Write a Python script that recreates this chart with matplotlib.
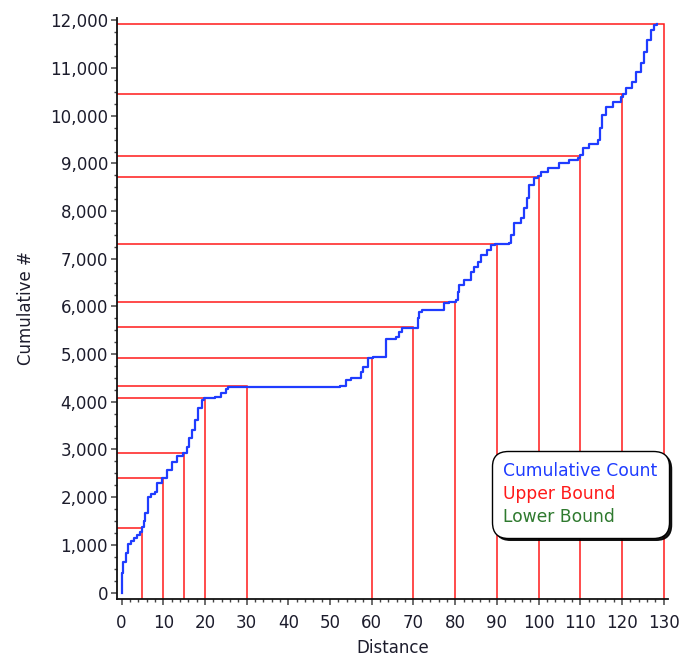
import matplotlib
matplotlib.use("Agg")
import matplotlib.pyplot as plt
from matplotlib.ticker import FuncFormatter, MultipleLocator

# cumulative count (step curve)
cum_x = [0.0, 0.0, 0.4, 1.0, 1.6, 2.2, 3.0, 3.8, 4.4, 5.0, 5.3, 5.7, 6.3, 7.0,
         8.0, 8.4, 9.6, 10.8, 12.0, 13.2, 14.8, 15.6, 16.2, 16.8, 17.6, 18.4,
         19.3, 19.8, 22.3, 23.9, 25.0, 25.5, 52.3, 53.9, 55.1, 57.5, 58.0,
         59.1, 60.3, 63.5, 65.9, 66.5, 67.3, 71.0, 71.4, 72.0, 77.2, 78.6,
         80.2, 80.6, 81.0, 82.2, 83.8, 84.6, 85.4, 86.2, 87.6, 88.6, 89.5,
         93.0, 93.3, 94.2, 95.8, 96.6, 97.1, 97.8, 99.0, 99.8, 100.6, 102.2,
         105.0, 107.4, 109.4, 110.0, 110.6, 112.2, 114.2, 114.7, 115.2, 116.2,
         117.8, 119.8, 120.2, 121.0, 122.5, 123.3, 124.6, 125.3, 126.1, 126.9,
         127.7, 128.5]
cum_y = [0, 415, 646, 822, 1017, 1080, 1150, 1210, 1275, 1370, 1500, 1660,
         2010, 2070, 2115, 2290, 2400, 2570, 2745, 2863, 2935, 3060, 3240,
         3410, 3620, 3864, 4040, 4085, 4110, 4178, 4260, 4320, 4330, 4458,
         4506, 4632, 4737, 4913, 4934, 5311, 5366, 5471, 5555, 5750, 5891,
         5926, 6066, 6088, 6136, 6310, 6451, 6556, 6730, 6835, 6940, 7080,
         7185, 7290, 7320, 7330, 7500, 7745, 7850, 8059, 8269, 8548, 8689,
         8730, 8828, 8905, 9003, 9073, 9122, 9170, 9318, 9402, 9492, 9738,
         10017, 10191, 10296, 10401, 10460, 10577, 10716, 10926, 11101,
         11346, 11590, 11800, 11905, 11920]

# upper bound points
bound_x = [5, 10, 15, 20, 30, 60, 70, 80, 90, 100, 110, 120, 130]
bound_y = [1360, 2410, 2930, 4085, 4325, 4925, 5565, 6085, 7320, 8725,
           9160, 10450, 11925]

xmin, xmax = -1.1, 131
ymin, ymax = -136, 12050

blue = "#1f3cff"
red = "#ff1a1a"
green = "#2f7a2f"
txt = "#1c1c2c"

fig = plt.figure(figsize=(6.95, 6.6), dpi=100)
ax = fig.add_axes([0.1683, 0.0924, 0.7927, 0.8803])

for bx, by in zip(bound_x, bound_y):
    ax.plot([bx, bx, xmin], [ymin, by, by], color=red, lw=1.1, zorder=2,
            solid_joinstyle="miter")

ax.plot(cum_x, cum_y, drawstyle="steps-post", color=blue, lw=1.6, zorder=3)

ax.set_xlim(xmin, xmax)
ax.set_ylim(ymin, ymax)

ax.xaxis.set_major_locator(MultipleLocator(10))
ax.xaxis.set_minor_locator(MultipleLocator(2))
ax.yaxis.set_major_locator(MultipleLocator(1000))
ax.yaxis.set_minor_locator(MultipleLocator(250))
ax.yaxis.set_major_formatter(FuncFormatter(lambda v, p: "{:,.0f}".format(v)))

for s in ["top", "right"]:
    ax.spines[s].set_visible(False)
for s in ["left", "bottom"]:
    ax.spines[s].set_linewidth(1.3)
    ax.spines[s].set_color("#111111")

ax.tick_params(which="major", length=4.5, width=1.1, color="#444444",
               labelsize=12, labelcolor=txt)
ax.tick_params(which="minor", length=2.5, width=1.0, color="#444444")
ax.tick_params(axis="x", which="major", pad=6)
ax.tick_params(axis="y", which="major", pad=2)

ax.set_xlabel("Distance", fontsize=12, color=txt)
ax.set_ylabel("Cumulative #", fontsize=12, color=txt)
ax.xaxis.set_label_coords(0.5, -0.069)
ax.yaxis.set_label_coords(-0.149, 0.5)

# legend (text only)
h1, = ax.plot([], [], color=blue, label="Cumulative Count")
h2, = ax.plot([], [], color=red, label="Upper Bound")
h3, = ax.plot([], [], color=green, label="Lower Bound")
leg = ax.legend(handles=[h1, h2, h3], loc="lower left",
                bbox_to_anchor=(0.672, 0.097), handlelength=0,
                handletextpad=0, labelcolor="linecolor", fontsize=12.3,
                fancybox=True, shadow={"color": "black", "alpha": 0.9},
                framealpha=1, edgecolor="black", borderpad=0.45,
                labelspacing=0.3, alignment="left")
leg.get_frame().set_linewidth(1.0)
leg.get_frame().set_boxstyle("round", pad=0.2, rounding_size=0.9)
for h in leg.legend_handles:
    h.set_visible(False)

fig.savefig("out.png", dpi=100, facecolor="white")
